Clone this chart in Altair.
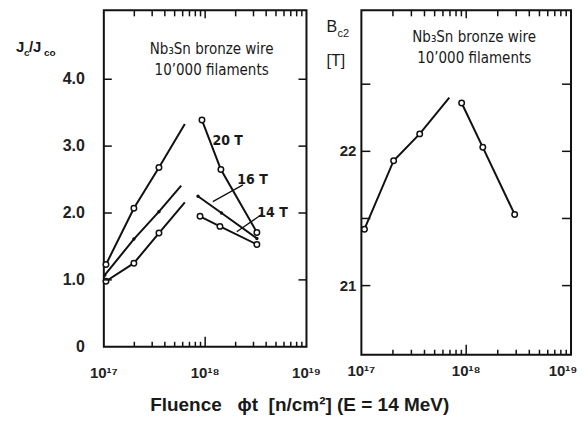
import altair as alt
import pandas as pd

# ---------------- data ----------------
# Left panel: Jc/Jco versus fluence [n/cm^2]; two drawn segments per field.
# In segment 1 the last value is the end of the drawn line (no symbol there).
fl_20T_a = [1.05e17, 1.98e17, 3.5e17, 6.3e17]
jc_20T_a = [1.23, 2.07, 2.68, 3.33]
fl_20T_b = [9.3e17, 1.43e18, 3.24e18]
jc_20T_b = [3.39, 2.65, 1.71]

fl_16T_a = [1.02e17, 1.98e17, 3.5e17, 5.8e17]
jc_16T_a = [1.07, 1.61, 2.02, 2.41]
fl_16T_b = [8.5e17, 1.45e18, 3.24e18]
jc_16T_b = [2.25, 2.00, 1.62]

fl_14T_a = [1.05e17, 1.98e17, 3.5e17, 6.3e17]
jc_14T_a = [0.98, 1.25, 1.70, 2.16]
fl_14T_b = [8.9e17, 1.40e18, 3.24e18]
jc_14T_b = [1.95, 1.80, 1.53]

# Right panel: Bc2 [T] versus fluence
fl_bc2_a = [1.07e17, 2.03e17, 3.6e17, 6.9e17]
bc2_a = [21.42, 21.93, 22.13, 22.40]
fl_bc2_b = [9.05e17, 1.44e18, 2.9e18]
bc2_b = [22.36, 22.03, 21.53]

# ticks and tick labels
x_major = [1e17, 1e18, 1e19]
x_major_labels = ["10\u00b9\u2077", "10\u00b9\u2078", "10\u00b9\u2079"]
x_minor = [2e17, 3e17, 4e17, 5e17, 6e17, 7e17, 8e17, 9e17,
           2e18, 3e18, 4e18, 5e18, 6e18, 7e18, 8e18, 9e18]
jc_ticks = [0, 1, 2, 3, 4]
jc_tick_labels = ["0", "1.0", "2.0", "3.0", "4.0"]
bc2_ticks = [21.0, 21.5, 22.0, 22.5]
bc2_label_vals = [21, 22]
bc2_tick_labels = ["21", "22"]

field_labels = ["20 T", "16 T", "14 T"]
info_text = "Nb\u2083Sn bronze wire\n10\u2019000 filaments"
x_title = "Fluence\u00a0\u00a0\u00a0\u03d5t\u00a0\u00a0[n/cm\u00b2] (E = 14 MeV)"

# leader lines for the 16 T and 14 T labels (data coordinates)
lead_x1 = [2.36e18, 3.7e18]
lead_y1 = [2.42, 1.99]
lead_x2 = [1.19e18, 2.05e18]
lead_y2 = [2.17, 1.72]

# ---------------- tables ----------------
def seg_rows(key, fl, vals, marked_all, kind):
    rows = []
    n = len(fl)
    for i, (f, v) in enumerate(zip(fl, vals)):
        mk = marked_all or i < n - 1
        rows.append({"seg": key, "fl": f, "v": v, "marker": mk, "kind": kind})
    return rows

left_df = pd.DataFrame(seg_rows("20a", fl_20T_a, jc_20T_a, False, "open")
                       + seg_rows("20b", fl_20T_b, jc_20T_b, True, "open")
                       + seg_rows("16a", fl_16T_a, jc_16T_a, False, "dot")
                       + seg_rows("16b", fl_16T_b, jc_16T_b, True, "dot")
                       + seg_rows("14a", fl_14T_a, jc_14T_a, False, "open")
                       + seg_rows("14b", fl_14T_b, jc_14T_b, True, "open"))
right_df = pd.DataFrame(seg_rows("a", fl_bc2_a, bc2_a, False, "open")
                        + seg_rows("b", fl_bc2_b, bc2_b, True, "open"))

FONT = "Liberation Sans"
NARROW = "DejaVu Sans Condensed, Liberation Sans Narrow, Liberation Sans"
INK = "#111111"
LABEL_INK = "#222222"

LW, LH = 203, 337
RW, RH = 210, 345
dom_l = [0, 5.03]
dom_r = [20.485, 23.05]

xscale = alt.Scale(type="log", domain=[1e17, 1e19], nice=False)
yscale_l = alt.Scale(domain=dom_l, nice=False, zero=False)
yscale_r = alt.Scale(domain=dom_r, nice=False, zero=False)


def XF(field):
    return alt.X(field, scale=xscale, axis=None)


def x_tick_table(dom, height):
    """Inward tick segments along bottom and top edges, in data units of each panel."""
    per_px = (dom[1] - dom[0]) / height
    lo, hi = dom
    rows = []
    for t in x_minor:
        rows.append({"t": t, "ya": lo, "yb": lo + 5 * per_px})
        rows.append({"t": t, "ya": hi, "yb": hi - 6 * per_px})
    for t in x_major[1:2]:
        rows.append({"t": t, "ya": lo, "yb": lo + 10 * per_px})
        rows.append({"t": t, "ya": hi, "yb": hi - 8 * per_px})
    return pd.DataFrame(rows)


def tick_layers(width, height, dom, yscale, ytick_vals, ylen):
    xt = x_tick_table(dom, height)
    yt = pd.DataFrame({"t": ytick_vals})
    Y = lambda: alt.Y("t:Q", scale=yscale, axis=None)
    base = dict(color=INK, strokeWidth=1.5)
    return [
        alt.Chart(xt).mark_rule(**base).encode(
            x=XF("t:Q"), y=alt.Y("ya:Q", scale=yscale, axis=None), y2="yb:Q"),
        alt.Chart(yt).mark_rule(**base).encode(y=Y(), x=alt.value(0), x2=alt.value(ylen)),
        alt.Chart(yt).mark_rule(**base).encode(y=Y(), x=alt.value(width - ylen), x2=alt.value(width)),
    ]


def x_label_layers(height, pad, last_dx):
    df = pd.DataFrame({"t": x_major, "lab": x_major_labels})
    style = dict(font=FONT, fontSize=15, fontWeight="bold", color=LABEL_INK,
                 align="center", baseline="top")
    return [
        alt.Chart(df).transform_filter("datum.t < 5e18").mark_text(**style).encode(
            x=XF("t:Q"), y=alt.value(height + pad), text="lab:N"),
        alt.Chart(df).transform_filter("datum.t > 5e18").mark_text(dx=last_dx, **style).encode(
            x=XF("t:Q"), y=alt.value(height + pad), text="lab:N"),
    ]


def y_label_layer(vals, labels, yscale, pad, size):
    df = pd.DataFrame({"t": vals, "lab": labels})
    return alt.Chart(df).mark_text(font=FONT, fontSize=size, fontWeight="bold", color=LABEL_INK,
                                   align="right", baseline="middle").encode(
        y=alt.Y("t:Q", scale=yscale, axis=None), x=alt.value(-pad), text="lab:N")


def text_piece(txt, x, y, size, weight="bold", font=FONT, align="left", baseline="alphabetic"):
    return alt.Chart(pd.DataFrame({"s": [txt]})).mark_text(
        font=font, fontSize=size, fontWeight=weight, color="#1a1a1a",
        align=align, baseline=baseline, lineBreak="\n", lineHeight=21
    ).encode(text="s:N", x=alt.value(x), y=alt.value(y))


def data_layers(df, yscale, with_dots):
    Y = lambda: alt.Y("v:Q", scale=yscale, axis=None)
    out = [
        alt.Chart(df).mark_line(color=INK, strokeWidth=2).encode(x=XF("fl:Q"), y=Y(), detail="seg:N"),
        alt.Chart(df).transform_filter("datum.marker && datum.kind == 'open'").mark_point(
            shape="circle", filled=True, fill="white", stroke=INK, strokeWidth=1.5, size=30, opacity=1
        ).encode(x=XF("fl:Q"), y=Y()),
    ]
    if with_dots:
        out.append(alt.Chart(df).transform_filter("datum.marker && datum.kind == 'dot'").mark_point(
            shape="circle", filled=True, color=INK, size=12, opacity=1
        ).encode(x=XF("fl:Q"), y=Y()))
    return out


view = alt.ViewBackground(stroke=INK, strokeWidth=2, fill="white")

# ---------------- left panel ----------------
lead_df = pd.DataFrame({"x1": lead_x1, "y1": lead_y1, "x2": lead_x2, "y2": lead_y2})
l_lead = alt.Chart(lead_df).mark_rule(color=INK, strokeWidth=1.3).encode(
    x=XF("x1:Q"), x2="x2:Q",
    y=alt.Y("y1:Q", scale=yscale_l, axis=None), y2="y2:Q")

left = alt.layer(
    *data_layers(left_df, yscale_l, True),
    *tick_layers(LW, LH, dom_l, yscale_l, jc_ticks[1:], 8),
    l_lead,
    *x_label_layers(LH, 19, 0),
    y_label_layer(jc_ticks, jc_tick_labels, yscale_l, 19, 16),
    text_piece(info_text, 108, 39, 15, weight="normal", font=NARROW, align="center", baseline="middle"),
    text_piece(field_labels[0], 124, 131, 14, font=NARROW, align="center", baseline="middle"),
    text_piece(field_labels[1], 149, 170, 14, font=NARROW, align="center", baseline="middle"),
    text_piece(field_labels[2], 169, 203, 14, font=NARROW, align="center", baseline="middle"),
    text_piece("J", -88, 42, 15),
    text_piece("c", -80, 46, 10),
    text_piece("/J", -75, 42, 15),
    text_piece("co", -60, 46, 10),
).properties(width=LW, height=LH, view=view)

# ---------------- right panel ----------------
right = alt.layer(
    *data_layers(right_df, yscale_r, False),
    *tick_layers(RW, RH, dom_r, yscale_r, bc2_ticks, 9),
    *x_label_layers(RH, 9, -8),
    y_label_layer(bc2_label_vals, bc2_tick_labels, yscale_r, 5, 15),
    text_piece(info_text, 113, 27, 15, weight="normal", font=NARROW, align="center", baseline="middle"),
    text_piece("B", -35, 22, 16, weight="normal"),
    text_piece("c2", -24, 27, 11, weight="normal"),
    text_piece("[T]", -35, 56, 16, weight="normal"),
).properties(width=RW, height=RH, view=view)

chart = alt.hconcat(left, right, spacing=3).properties(
    padding={"left": 7, "top": 0, "right": 0, "bottom": 0},
    title=alt.TitleParams(x_title, orient="bottom", anchor="middle", font=FONT,
                          fontSize=19, fontWeight="bold", color="#1a1a1a", offset=14, dx=3),
).configure_view(stroke=INK, strokeWidth=2).configure(background="white")

chart.save("out.html", embed_options={"renderer": "svg", "actions": False})
